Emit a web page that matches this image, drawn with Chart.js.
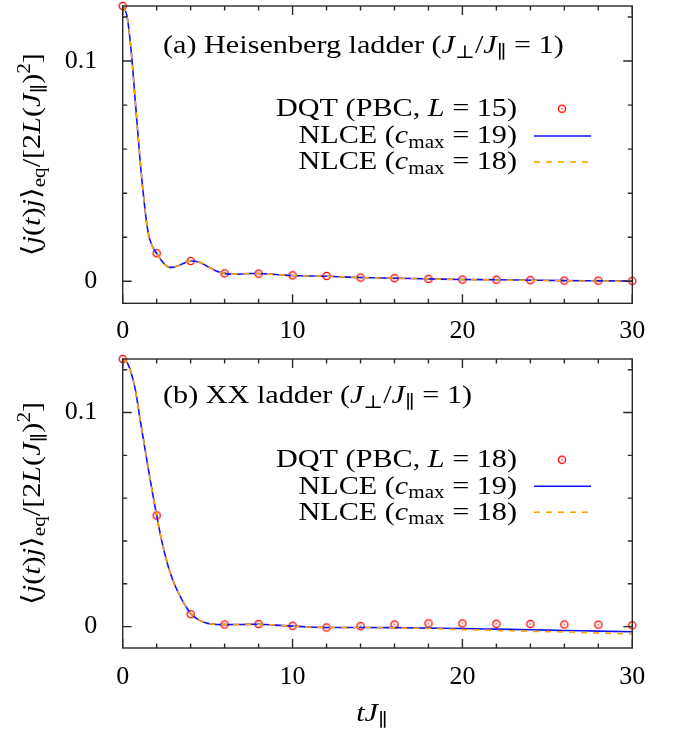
<!DOCTYPE html>
<html><head><meta charset="utf-8">
<script src="https://cdn.jsdelivr.net/npm/chart.js@4.4.0/dist/chart.umd.min.js"></script>
<style>
html,body{margin:0;padding:0;background:#fff;}
#wrap{position:relative;width:673px;height:731px;overflow:hidden;}
.panel{position:absolute;left:0;width:673px;}
canvas{display:block;}
</style></head><body>
<div id="wrap">
<div class="panel" style="top:0;height:345px"><canvas id="ca" width="673" height="345"></canvas></div>
<div class="panel" style="top:345px;height:386px"><canvas id="cb" width="673" height="386"></canvas></div>
</div>
<script>
// ---------------- data ----------------
const xMajorTicks = [0, 10, 20, 30];
const xMinorTicks = [2, 4, 6, 8, 12, 14, 16, 18, 22, 24, 26, 28];
const yMajorTicks = [0, 0.1];
const yMinorTicks = [0.02, 0.04, 0.06, 0.08, 0.12];

const dqtTimes = [0,2,4,6,8,10,12,14,16,18,20,22,24,26,28,30];
const dqtA = [0.125,0.0127,0.0092,0.0036,0.0035,0.0027,0.0024,0.0017,0.0014,0.0011,0.0008,0.0007,0.0005,0.0003,0.0003,0.0002];
const dqtB = [0.125,0.0519,0.0058,0.0010,0.0012,0.0004,-0.0004,0.0002,0.0010,0.0015,0.0015,0.0013,0.0012,0.0010,0.0009,0.0006];

const lineTimesA = [0,0.25,0.5,0.75,1,1.25,1.5,1.75,2,2.25,2.5,2.75,3,3.5,4,4.5,5,5.5,6,6.5,7,7.5,8,9,10,12,14,16,18,20,22,24,26,28,30];
const nlce19A = [0.125,0.1205,0.1045,0.081,0.057,0.037,0.022,0.0158,0.0127,0.0098,0.0075,0.0063,0.0064,0.0078,0.0092,0.0087,0.0067,0.0047,0.0036,0.0032,0.0033,0.0035,0.0035,0.0031,0.0026,0.0023,0.0017,0.0014,0.0011,0.0008,0.0007,0.0005,0.0003,0.0002,0.0001];
const nlce18A = [0.125,0.1205,0.1045,0.081,0.057,0.037,0.022,0.0158,0.0127,0.0098,0.0075,0.0063,0.0064,0.0078,0.0092,0.0087,0.0067,0.0047,0.0036,0.0032,0.0033,0.0035,0.0035,0.0031,0.0026,0.0023,0.0017,0.0014,0.0011,0.0008,0.0006,0.0004,0.0002,0.0001,0.0000];

const lineTimesB = [0,0.25,0.5,0.75,1,1.25,1.5,1.75,2,2.25,2.5,2.75,3,3.25,3.5,3.75,4,4.5,5,5.5,6,7,8,9,10,11,12,14,16,18,20,22,24,26,28,30];
const nlce19B = [0.125,0.1235,0.1185,0.1105,0.098,0.086,0.074,0.0627,0.0519,0.0418,0.0333,0.0263,0.0207,0.0162,0.0124,0.009,0.0061,0.003,0.0015,0.001,0.0009,0.001,0.0011,0.0007,0.0002,-0.0002,-0.0004,-0.0004,-0.0005,-0.0007,-0.0009,-0.0012,-0.0015,-0.0018,-0.0021,-0.0024];
const nlce18B = [0.125,0.1235,0.1185,0.1105,0.098,0.086,0.074,0.0627,0.0519,0.0418,0.0333,0.0263,0.0207,0.0162,0.0124,0.009,0.0061,0.003,0.0015,0.001,0.0009,0.001,0.0011,0.0007,0.0002,-0.0002,-0.0004,-0.0004,-0.0006,-0.0009,-0.0014,-0.0018,-0.0022,-0.0025,-0.003,-0.0035];

// ---------------- text ----------------
const FONT_STACK = "'Liberation Serif','DejaVu Serif','DejaVu Sans',serif";
const FS = 26;
const legendDqtA = [{t:'DQT (PBC, '},{t:'L',it:1},{t:' = 15)'}];
const legendDqtB = [{t:'DQT (PBC, '},{t:'L',it:1},{t:' = 18)'}];
const legend19 = [{t:'NLCE ('},{t:'c',it:1},{t:'max',sc:0.7,dy:0.18},{t:' = 19)'}];
const legend18 = [{t:'NLCE ('},{t:'c',it:1},{t:'max',sc:0.7,dy:0.18},{t:' = 18)'}];
const titleA = [{t:'(a) Heisenberg ladder ('},{t:'J',it:1},{t:'⊥',sc:0.7,dy:0.18},{t:'/'},{t:'J',it:1},{t:'∥',sc:0.7,dy:0.18},{t:' = 1)'}];
const titleB = [{t:'(b) XX ladder ('},{t:'J',it:1},{t:'⊥',sc:0.7,dy:0.18},{t:'/'},{t:'J',it:1},{t:'∥',sc:0.7,dy:0.18},{t:' = 1)'}];
const yTitle = [{t:'⟨'},{t:'j',it:1},{t:'('},{t:'t',it:1},{t:')'},{t:'j',it:1},{t:'⟩'},{t:'eq',sc:0.7,dy:0.2},{t:'/[2'},{t:'L',it:1},{t:'('},{t:'J',it:1},{t:'∥',sc:0.7,dy:0.18},{t:')'},{t:'2',sc:0.7,dy:-0.4},{t:']'}];
const xTitle = [{t:'t',it:1},{t:'J',it:1},{t:'∥',sc:0.7,dy:0.18}];

function segFont(s, size){ return (s.it?'italic ':'') + (size*(s.sc||1)).toFixed(2) + 'px ' + FONT_STACK; }
function richWidth(ctx, segs, size){ let w=0; for(const s of segs){ ctx.font=segFont(s,size); w+=ctx.measureText(s.t).width; } return w; }
function drawRich(ctx, segs, x, y, size, align, sx){
  const w = richWidth(ctx, segs, size)*sx;
  const x0 = align==='right' ? x-w : (align==='center' ? x-w/2 : x);
  ctx.save(); ctx.translate(x0, y); ctx.scale(sx, 1);
  ctx.textBaseline='alphabetic'; ctx.textAlign='left'; ctx.fillStyle='#000';
  let cx=0;
  for(const s of segs){ ctx.font=segFont(s,size); ctx.fillText(s.t, cx, (s.dy||0)*size); cx+=ctx.measureText(s.t).width; }
  ctx.restore();
}

function makeMarker(){
  const c=document.createElement('canvas'); c.width=12; c.height=12;
  const g=c.getContext('2d');
  g.strokeStyle='#ff0000'; g.lineWidth=1.3;
  g.beginPath(); g.arc(6,6,3.6,0,2*Math.PI); g.stroke();
  g.fillStyle='#ff0000'; g.beginPath(); g.arc(6,6,0.8,0,2*Math.PI); g.fill();
  return c;
}
const marker = makeMarker();

const decor = {
  id:'decor',
  afterDraw(chart, args, o){
    const ctx=chart.ctx, a=chart.chartArea, x=chart.scales.x, y=chart.scales.y;
    ctx.save();
    ctx.strokeStyle='#2a2a2a'; ctx.lineWidth=1.4;
    ctx.strokeRect(a.left, a.top, a.right-a.left, a.bottom-a.top);
    ctx.beginPath();
    const xt=(v,len)=>{const p=x.getPixelForValue(v); ctx.moveTo(p,a.bottom); ctx.lineTo(p,a.bottom-len); ctx.moveTo(p,a.top); ctx.lineTo(p,a.top+len);};
    const yt=(v,len)=>{const p=y.getPixelForValue(v); ctx.moveTo(a.left,p); ctx.lineTo(a.left+len,p); ctx.moveTo(a.right,p); ctx.lineTo(a.right-len,p);};
    xMajorTicks.forEach(v=>xt(v,9)); xMinorTicks.forEach(v=>xt(v,4.5));
    yMajorTicks.forEach(v=>yt(v,9)); yMinorTicks.forEach(v=>yt(v,4.5));
    ctx.stroke();
    ctx.restore();

    const sx = 241 / richWidth(ctx, legendDqtA, FS);
    drawRich(ctx, o.title, 163, a.top + o.titleOff, FS, 'left', sx);
    const ds = chart.data.datasets;
    const rows = [o.legDqt, legend19, legend18];
    for(let i=0;i<3;i++){
      const by = a.top + o.legOff[i];
      drawRich(ctx, rows[i], 517, by, FS, 'right', sx);
      const sy = by - 7.3;
      if(i===0){ ctx.drawImage(marker, 562-6, sy-6); }
      else {
        ctx.save(); ctx.strokeStyle=ds[i].borderColor; ctx.lineWidth=ds[i].borderWidth;
        ctx.setLineDash(ds[i].borderDash||[]);
        ctx.beginPath(); ctx.moveTo(534, sy); ctx.lineTo(591, sy); ctx.stroke(); ctx.restore();
      }
    }
    ctx.save(); ctx.translate(40, (a.top+a.bottom)/2); ctx.rotate(-Math.PI/2);
    drawRich(ctx, yTitle, 0, 0, FS, 'center', sx);
    ctx.restore();
    if(o.xTitle){ drawRich(ctx, xTitle, 372, o.xTitleY, FS, 'center', sx); }
  }
};

function pts(xs, ys){ return xs.map((t,i)=>({x:t, y:ys[i]})); }

function makePanel(id, cfg){
  return new Chart(document.getElementById(id), {
    type:'line',
    data:{ datasets:[
      {label:cfg.dqtLabel, data:pts(dqtTimes,cfg.dqt), showLine:false, pointStyle:marker, pointRadius:5, borderColor:'#ff0000', backgroundColor:'#ff0000', order:3, clip:false},
      {label:'NLCE (c_max = 19)', data:pts(cfg.lt,cfg.l19), borderColor:'#1010ff', borderWidth:1.6, pointRadius:0, cubicInterpolationMode:'monotone', order:2, fill:false},
      {label:'NLCE (c_max = 18)', data:pts(cfg.lt,cfg.l18), borderColor:'#ffa500', borderWidth:1.6, borderDash:[6,6], pointRadius:0, cubicInterpolationMode:'monotone', order:1, fill:false}
    ]},
    options:{
      responsive:false, animation:false, devicePixelRatio:1,
      layout:{padding:{left:0, top:cfg.padTop, right:40.7, bottom:cfg.padBottom}},
      plugins:{legend:{display:false}, tooltip:{enabled:false}, decor:cfg.decor},
      scales:{
        x:{type:'linear', min:0, max:30, grid:{display:false}, border:{display:false},
           afterBuildTicks:s=>{s.ticks=xMajorTicks.map(v=>({value:v}));},
           afterFit:s=>{s.height=cfg.xH; s.paddingLeft=0; s.paddingRight=0;},
           ticks:{autoSkip:false, maxRotation:0, minRotation:0, padding:cfg.xPad, color:'#000', font:{family:FONT_STACK,size:FS}, callback:v=>String(v)}},
        y:{type:'linear', min:-0.01, max:0.125, grid:{display:false}, border:{display:false},
           afterBuildTicks:s=>{s.ticks=yMajorTicks.map(v=>({value:v}));},
           afterFit:s=>{s.width=122.7; s.paddingTop=0; s.paddingBottom=0;},
           ticks:{autoSkip:false, padding:17.5, color:'#000', font:{family:FONT_STACK,size:FS}, callback:v=>(v===0?'0':String(v))}}
      }
    },
    plugins:[decor]
  });
}

makePanel('ca', {dqt:dqtA, dqtLabel:'DQT (PBC, L = 15)', lt:lineTimesA, l19:nlce19A, l18:nlce18A,
  padTop:6, xH:41.7, padBottom:0, xPad:4,
  decor:{title:titleA, titleOff:47.3, legDqt:legendDqtA, legOff:[110,137.3,163.3], xTitle:false}});
makePanel('cb', {dqt:dqtB, dqtLabel:'DQT (PBC, L = 18)', lt:lineTimesB, l19:nlce19B, l18:nlce18B,
  padTop:14, xH:70, padBottom:13, xPad:6,
  decor:{title:titleB, titleOff:44, legDqt:legendDqtB, legOff:[108,134.5,160.5], xTitle:true, xTitleY:376}});
</script>
</body></html>
